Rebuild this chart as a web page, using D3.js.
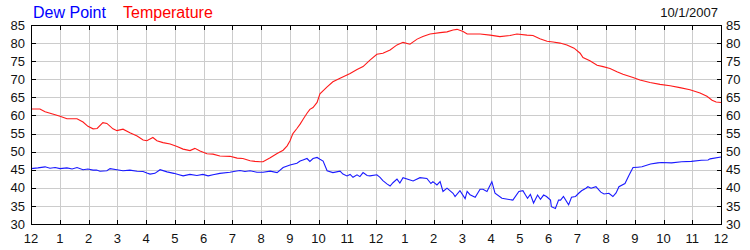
<!DOCTYPE html>
<html><head><meta charset="utf-8">
<script src="https://cdn.jsdelivr.net/npm/d3@7"></script>
<style>
body{margin:0;background:#fff;}
text{font-family:"Liberation Sans",Arial,sans-serif;}
</style></head>
<body><svg id="c" width="750" height="250"></svg>
<script>
// x positions in hours after midnight
const tempHours = [0,0.31,0.49,0.84,1.01,1.25,1.6,1.81,1.98,2.16,2.3,2.5,2.64,2.85,2.99,3.2,3.44,3.69,3.9,4.03,4.24,4.38,4.59,4.84,5.08,5.29,5.53,5.7,5.88,6.12,6.33,6.57,6.92,7.17,7.37,7.62,7.79,7.97,8.07,8.32,8.56,8.77,8.91,9.01,9.11,9.25,9.36,9.46,9.6,9.7,9.81,9.95,10.05,10.3,10.5,10.75,10.99,11.1,11.34,11.55,11.79,12.03,12.24,12.49,12.73,12.94,13.18,13.43,13.63,13.88,14.23,14.47,14.68,14.82,15.03,15.17,15.62,15.97,16.31,16.66,16.9,17.25,17.46,17.7,17.95,18.16,18.4,18.64,18.89,19.1,19.2,19.44,19.69,19.9,20.14,20.38,20.59,20.94,21.18,21.53,21.88,22.23,22.57,22.92,23.27,23.51,23.69,23.83,24];
const tempValues = [61.8,61.8,61.0,60.2,59.8,59.1,59.1,58.2,57.0,56.3,56.4,58.0,57.8,56.3,55.8,56.2,55.2,54.3,53.2,53.0,53.9,53.0,52.5,52.1,51.4,50.7,50.3,50.9,50.2,49.4,49.3,48.8,48.7,48.2,48.1,47.5,47.3,47.2,47.2,48.3,49.5,50.4,51.6,53.0,55.0,56.4,57.6,58.9,60.6,61.7,62.2,63.6,66.0,67.9,69.3,70.3,71.2,71.6,72.7,73.5,75.3,76.9,77.2,78.1,79.5,80.2,79.7,81.1,81.8,82.5,82.9,83.1,83.6,83.8,83.2,82.5,82.5,82.2,81.8,82.1,82.5,82.2,82.1,81.2,80.5,80.3,80.0,79.5,78.6,77.2,76.0,75.1,73.9,73.5,73.0,72.1,71.4,70.5,69.8,69.1,68.6,68.2,67.7,67.1,66.2,65.3,64.2,63.7,63.6];

const dewHours = [0,0.24,0.49,0.66,0.84,1.01,1.25,1.43,1.6,1.81,1.98,2.16,2.28,2.4,2.64,2.75,2.99,3.2,3.44,3.69,3.9,4.03,4.14,4.31,4.49,4.73,4.97,5.15,5.29,5.53,5.77,5.98,6.16,6.33,6.57,6.92,7.1,7.27,7.44,7.62,7.86,8.07,8.32,8.56,8.77,9.01,9.25,9.36,9.46,9.6,9.7,9.81,9.95,10.05,10.16,10.3,10.5,10.75,10.85,10.99,11.1,11.2,11.34,11.44,11.55,11.69,11.79,12.03,12.14,12.24,12.38,12.49,12.59,12.73,12.83,12.94,13.29,13.53,13.77,13.91,13.98,14.12,14.23,14.33,14.47,14.68,14.75,14.92,15.1,15.17,15.27,15.45,15.62,15.72,15.86,16.03,16.14,16.38,16.76,16.97,17.11,17.2,17.27,17.37,17.48,17.62,17.72,17.83,17.93,18.07,18.1,18.24,18.35,18.42,18.52,18.7,18.8,18.94,19.05,19.15,19.3,19.37,19.48,19.65,19.82,19.93,20.1,20.24,20.35,20.45,20.66,20.8,20.94,21.11,21.25,21.55,21.8,21.93,22.28,22.63,22.97,23.32,23.55,23.62,24];
const dewValues = [45.3,45.5,45.8,45.4,45.6,45.3,45.5,45.2,45.6,45.0,45.2,44.9,44.9,44.6,44.7,45.3,45.0,44.7,44.9,44.6,44.5,44.1,43.8,44.0,45.0,44.4,44.0,43.6,43.3,43.7,43.4,43.7,43.3,43.6,44.0,44.3,44.6,44.8,44.5,44.7,44.3,44.3,44.6,44.2,45.6,46.3,46.8,47.4,47.7,48.1,47.3,48.1,48.4,47.9,47.4,44.7,44.2,44.6,43.8,43.3,43.7,42.9,43.6,43.1,44.2,43.4,43.3,43.6,42.9,42.0,41.1,40.5,41.4,42.4,41.3,42.8,41.9,42.8,42.6,41.2,41.7,40.8,41.7,39.0,39.9,38.5,37.6,39.2,37.0,39.0,38.1,37.4,39.6,39.6,39.0,41.7,38.5,37.1,36.6,39.0,39.2,38.0,37.1,38.2,35.8,38.0,36.8,38.0,37.6,36.6,34.8,34.3,36.6,36.6,37.6,35.3,37.4,37.6,38.5,39.2,39.9,40.3,39.9,40.3,38.8,38.3,38.5,37.6,38.6,40.3,41.2,43.5,45.6,45.7,45.8,46.6,46.9,47.0,46.9,47.2,47.3,47.6,47.7,48.0,48.5,48.7,48.5,48.5];

const xTickHours = d3.range(0, 25);
const xTickLabels = ["12","1","2","3","4","5","6","7","8","9","10","11","12","1","2","3","4","5","6","7","8","9","10","11","12"];
const yTickValues = [30,35,40,45,50,55,60,65,70,75,80,85];
const seriesNames = ["Dew Point","Temperature"];
const dateLabel = "10/1/2007";

const svg = d3.select("#c");
const L = 31, R = 721, T = 25, B = 224;
const x = d3.scaleLinear().domain([0,24]).range([L,R]);
const y = d3.scaleLinear().domain([30,85]).range([B,T]);
const px = v => Math.round(v) + 0.5;

// grid
const g = svg.append("g").attr("stroke","#cccccc").attr("stroke-width",1);
xTickHours.slice(1,-1).forEach(h => g.append("line").attr("x1",px(x(h))).attr("x2",px(x(h))).attr("y1",T).attr("y2",B));
yTickValues.slice(1,-1).forEach(v => g.append("line").attr("y1",px(y(v))).attr("y2",px(y(v))).attr("x1",L).attr("x2",R));

// series
const n = Math.min(dewHours.length, dewValues.length);
const lineGen = d3.line().x(d => x(d[0])).y(d => y(d[1]));
svg.append("path").datum(dewHours.slice(0,n).map((h,i)=>[h,dewValues[i]]))
  .attr("d",lineGen).attr("fill","none").attr("stroke","#1a1aff").attr("stroke-width",1.1);
svg.append("path").datum(tempHours.map((h,i)=>[h,tempValues[i]]))
  .attr("d",lineGen).attr("fill","none").attr("stroke","#ff1a1a").attr("stroke-width",1.1);

// frame
svg.append("rect").attr("x",px(L)).attr("y",px(T)).attr("width",Math.round(R)-Math.round(L)).attr("height",Math.round(B)-Math.round(T))
  .attr("fill","none").attr("stroke","#000").attr("stroke-width",1);

// inward ticks
const tk = svg.append("g").attr("stroke","#000").attr("stroke-width",1);
xTickHours.forEach(h => {
  const xx = px(x(h));
  tk.append("line").attr("x1",xx).attr("x2",xx).attr("y1",T).attr("y2",T+5);
  tk.append("line").attr("x1",xx).attr("x2",xx).attr("y1",B+1).attr("y2",B-4);
});
yTickValues.forEach(v => {
  const yy = px(y(v));
  tk.append("line").attr("y1",yy).attr("y2",yy).attr("x1",L).attr("x2",L+5);
  tk.append("line").attr("y1",yy).attr("y2",yy).attr("x1",R+1).attr("x2",R-4);
});

// labels
const fs = 13;
yTickValues.forEach(v => {
  svg.append("text").attr("x",25).attr("y",y(v)).attr("dy","0.36em").attr("text-anchor","end")
    .attr("font-size",fs).attr("fill","#111").text(v);
  svg.append("text").attr("x",726).attr("y",y(v)).attr("dy","0.36em").attr("text-anchor","start")
    .attr("font-size",fs).attr("fill","#111").text(v);
});
xTickHours.forEach((h,i) => {
  svg.append("text").attr("x",x(h)).attr("y",243).attr("text-anchor","middle")
    .attr("font-size",fs).attr("fill","#111").text(xTickLabels[i]);
});

svg.append("text").attr("x",33).attr("y",18).attr("font-size",16).attr("fill","#0000ff").text(seriesNames[0]);
svg.append("text").attr("x",123).attr("y",18).attr("font-size",16).attr("fill","#ff0000").text(seriesNames[1]);
svg.append("text").attr("x",718).attr("y",17).attr("text-anchor","end").attr("font-size",fs).attr("fill","#111").text(dateLabel);
</script></body></html>
